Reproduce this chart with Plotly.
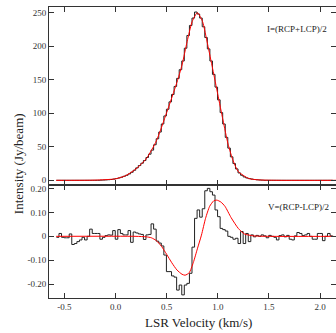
import plotly.graph_objects as go

# ---------------- data ----------------
V_START = -0.565      # centre of first channel (km/s)
CHAN_W = 0.025        # channel width (km/s)

# Stokes I histogram (Jy/beam), one value per channel
I_CHAN = [0, 0, 0, 0, 0, 0, 0, 0, 0, 0, 0, 0, 0, 0, 0, 0, 0,
          0.2, 0.4, 0.6, 0.9, 1.2, 1.8, 2.6, 3.5, 4.6, 6, 7.5, 9.5, 12, 15,
          18.5, 22, 25.5, 29.5, 34, 39, 45, 53, 62, 72, 84, 96, 106, 117,
          128, 140, 152, 165, 178, 197, 216, 231, 242, 251, 248, 242, 229,
          213, 196, 178, 158, 139, 120, 101, 84, 64, 48, 35, 25, 17, 11,
          7.5, 5, 3.5, 2.5, 1.8, 1.2, 0.8, 0.5, 0.3,
          0, 0, 0, 0, 0, 0, 0, 0, 0, 0, 0, 0, 0, 0, 0, 0, 0, 0, 0, 0, 0,
          0, 0, 0, 0, 0, 0]

# Stokes V histogram (Jy/beam), one value per channel
V_CHAN = [-0.004, 0.012, -0.004, -0.006, -0.006, 0.010, -0.034, -0.030,
          -0.022, -0.015, -0.004, -0.015, 0.000, 0.030, 0.012, 0.012, 0.012,
          -0.012, -0.004, 0.003, 0.006, 0.005, 0.024, -0.012, 0.028, 0.012,
          0.006, 0.006, 0.024, -0.025, 0.018, 0.014, 0.010, 0.008, -0.013,
          0.006, 0.008, 0.052, 0.030, -0.020, -0.028, -0.040, -0.078, -0.147,
          -0.147, -0.165, -0.170, -0.224, -0.203, -0.244, -0.203, -0.196,
          -0.154, -0.045, 0.075, 0.110, 0.080, 0.115, 0.190, 0.200, 0.186,
          0.172, 0.110, 0.082, 0.033, 0.028, 0.022, 0.000, -0.004, -0.012,
          -0.008, -0.030, 0.020, -0.030, 0.012, -0.022, 0.006, -0.002, 0.004,
          0.000, 0.006, 0.002, -0.006, 0.004, 0.000, -0.004, -0.015, 0.003,
          0.006, -0.002, 0.004, -0.012, -0.015, 0.002, 0.016, 0.012, 0.003,
          0.006, 0.012, 0.000, -0.012, -0.012, 0.012, 0.012, -0.018, 0.000,
          0.012, 0.002]

# model fits (red curves)
I_FIT_V = [-0.58, -0.2, 0.0, 0.1, 0.2, 0.3, 0.4, 0.5, 0.6, 0.65, 0.7, 0.75,
           0.8, 0.85, 0.9, 0.95, 1.0, 1.05, 1.1, 1.15, 1.2, 1.3, 1.4, 1.6, 2.16]
I_FIT = [0, 0.3, 2.2, 7, 17, 32, 59, 101, 146, 172, 207, 237,
         250, 237, 203, 166, 128, 90, 54, 29, 13, 2.8, 0.6, 0, 0]

V_FIT_V = [-0.58, 0.2, 0.3, 0.35, 0.4, 0.45, 0.5, 0.55, 0.6, 0.65, 0.68,
           0.72, 0.76, 0.8, 0.84, 0.88, 0.92, 0.96, 0.99, 1.03, 1.07, 1.13,
           1.2, 1.26, 1.35, 1.5, 2.13]
V_FIT = [0, 0, -0.002, -0.006, -0.018, -0.042, -0.075, -0.11, -0.14, -0.158,
         -0.162, -0.152, -0.11, -0.052, 0.005, 0.075, 0.125, 0.148, 0.151,
         0.143, 0.125, 0.078, 0.033, 0.01, 0.002, 0, 0]

X_TICKS = [-0.5, 0.0, 0.5, 1.0, 1.5, 2.0]
X_TICK_TEXT = ["-0.5", "0.0", "0.5", "1.0", "1.5", "2.0"]
I_TICKS = [0, 50, 100, 150, 200, 250]
I_TICK_TEXT = ["0", "50", "100", "150", "200", "250"]
V_TICKS = [-0.2, -0.1, 0.0, 0.1, 0.2]
V_TICK_TEXT = ["-0.20", "-0.10", "0", "0.10", "0.20"]

# ---------------- build ----------------
def step_xy(vals):
    n = len(vals)
    xs = [V_START + CHAN_W * (i - 0.5) for i in range(n)] + [V_START + CHAN_W * (n - 0.5)]
    ys = list(vals) + [vals[-1]]
    return xs, ys

FONT = "Liberation Serif, Times New Roman, serif"
AX = "#333333"

fig = go.Figure()
xi, yi = step_xy(I_CHAN)
xv, yv = step_xy(V_CHAN)
fig.add_trace(go.Scatter(x=xi, y=yi, mode="lines", line=dict(color="#222222", width=1, shape="hv"),
                         xaxis="x", yaxis="y", hoverinfo="skip"))
fig.add_trace(go.Scatter(x=I_FIT_V, y=I_FIT, mode="lines",
                         line=dict(color="#ff0000", width=1, shape="spline", smoothing=0.6),
                         xaxis="x", yaxis="y", hoverinfo="skip"))
fig.add_trace(go.Scatter(x=xv, y=yv, mode="lines", line=dict(color="#222222", width=1, shape="hv"),
                         xaxis="x2", yaxis="y2", hoverinfo="skip"))
fig.add_trace(go.Scatter(x=V_FIT_V, y=V_FIT, mode="lines",
                         line=dict(color="#ff0000", width=1, shape="spline", smoothing=0.6),
                         xaxis="x2", yaxis="y2", hoverinfo="skip"))

split = 113 / 291
xcommon = dict(range=[-0.65, 2.155], tickvals=X_TICKS, ticktext=X_TICK_TEXT,
               ticks="inside", ticklen=5, tickcolor=AX, showline=True, linecolor=AX,
               linewidth=1, mirror="ticks", showgrid=False, zeroline=False)
ycommon = dict(ticks="inside", ticklen=5, tickcolor=AX, showline=True, linecolor=AX,
               linewidth=1, mirror="ticks", showgrid=False, zeroline=False,
               tickfont=dict(family=FONT, size=9, color="#333333"))

fig.update_layout(
    width=336, height=333,
    margin=dict(l=49, r=0, t=7, b=35),
    paper_bgcolor="white", plot_bgcolor="white",
    showlegend=False,
    font=dict(family=FONT, size=9, color="#222222"),
    xaxis=dict(**xcommon, domain=[0, 1], anchor="y", showticklabels=False, matches="x2"),
    xaxis2=dict(**xcommon, domain=[0, 1], anchor="y2",
                tickfont=dict(family=FONT, size=9, color="#333333")),
    yaxis=dict(**ycommon, domain=[split, 1], anchor="x", range=[-7, 258.5],
               tickvals=I_TICKS, ticktext=I_TICK_TEXT),
    yaxis2=dict(**ycommon, domain=[0, split], anchor="x2", range=[-0.257, 0.214],
                tickvals=V_TICKS, ticktext=V_TICK_TEXT),
    annotations=[
        dict(text="Intensity (Jy/beam)", xref="paper", yref="paper", x=-0.108, y=0.46,
             xanchor="center", yanchor="middle", textangle=-90, showarrow=False,
             font=dict(family=FONT, size=13, color="#222222")),
        dict(text="LSR Velocity (km/s)", xref="paper", yref="paper", x=0.521, y=-0.085,
             xanchor="center", yanchor="middle", showarrow=False,
             font=dict(family=FONT, size=13, color="#222222")),
        dict(text="I=(RCP+LCP)/2", xref="paper", yref="paper", x=0.754, y=0.924,
             xanchor="left", yanchor="middle", showarrow=False,
             font=dict(family=FONT, size=9, color="#222222")),
        dict(text="V=(RCP-LCP)/2", xref="paper", yref="paper", x=0.757, y=0.314,
             xanchor="left", yanchor="middle", showarrow=False,
             font=dict(family=FONT, size=9, color="#222222")),
    ],
)

fig.write_html("out.html")
